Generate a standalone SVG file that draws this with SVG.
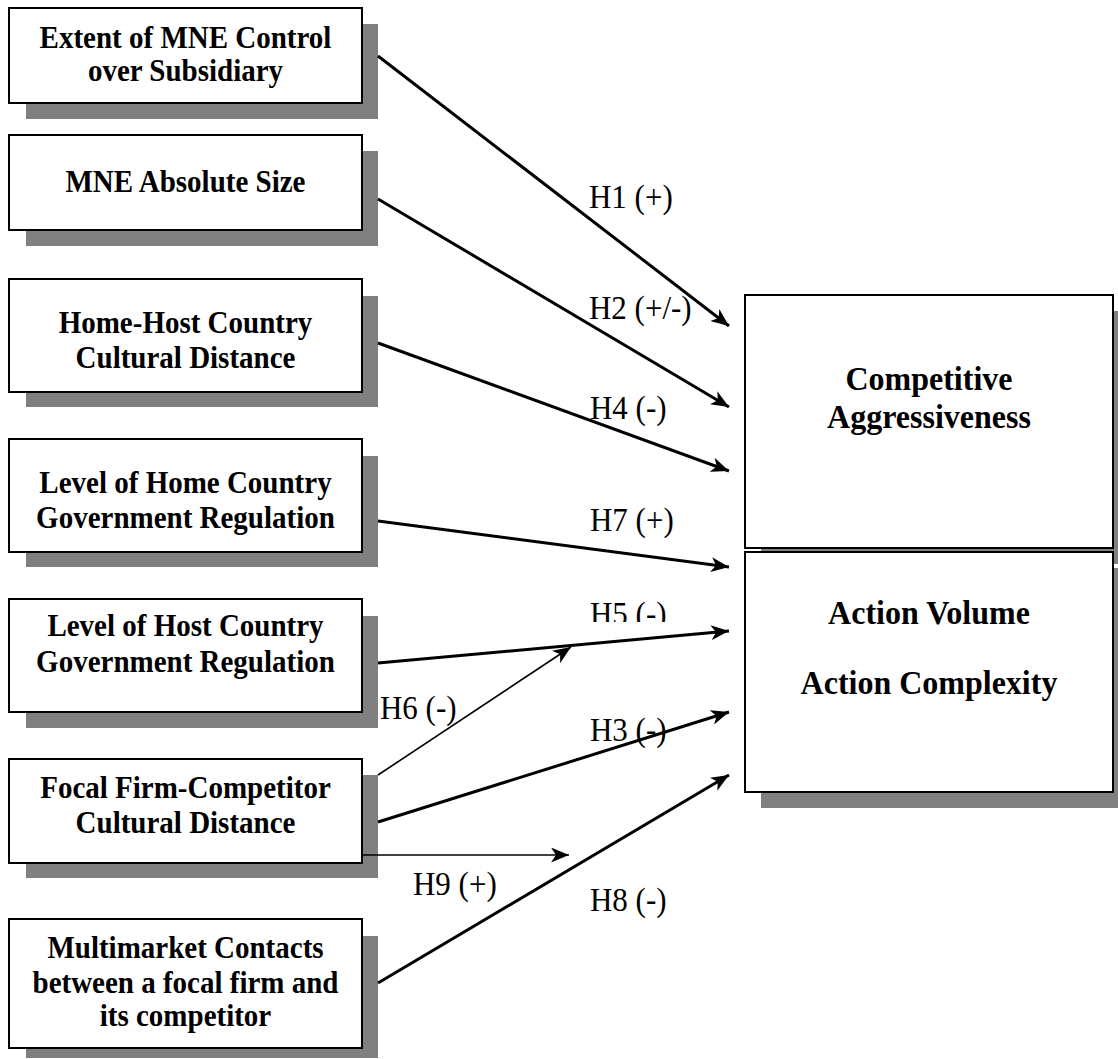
<svg xmlns="http://www.w3.org/2000/svg" width="1118" height="1059" viewBox="0 0 1118 1059">
<style>
.sh{fill:#808080}
.bx{fill:#fff;stroke:#000;stroke-width:2}
text{transform-box:fill-box;transform-origin:center;transform:scaleY(1.08)}
.t{font-family:"Liberation Serif","Times New Roman",serif;font-weight:bold;font-size:29px;text-anchor:middle;fill:#000}
.tr{font-family:"Liberation Serif","Times New Roman",serif;font-weight:bold;font-size:32px;text-anchor:middle;fill:#000}
.l{font-family:"Liberation Serif","Times New Roman",serif;font-size:31px;fill:#000}
.c{stroke:#000;stroke-width:3;fill:none;marker-end:url(#ah)}
.cn{stroke:#000;stroke-width:1.6;fill:none;marker-end:url(#ah)}
</style>
<defs>
<marker id="ah" markerUnits="userSpaceOnUse" markerWidth="19" markerHeight="15" refX="18" refY="7.5" orient="auto">
<path d="M0,0 L18,7.5 L0,15 L5,7.5 z" fill="#000"/>
</marker>
<clipPath id="h5clip"><rect x="0" y="0" width="1118" height="622"/></clipPath>
</defs>
<rect width="1118" height="1059" fill="#fff"/>

<g id="n1">
<rect class="sh" x="26" y="24" width="352" height="95"/>
<rect class="bx" x="9" y="8" width="353" height="95"/>
<text class="t" x="185.5" y="47">Extent of MNE Control</text>
<text class="t" x="185.5" y="80">over Subsidiary</text>
</g>
<g id="n2">
<rect class="sh" x="26" y="151" width="352" height="95"/>
<rect class="bx" x="9" y="135" width="353" height="95"/>
<text class="t" x="185.5" y="191">MNE Absolute Size</text>
</g>
<g id="n3">
<rect class="sh" x="26" y="296" width="352" height="111"/>
<rect class="bx" x="9" y="279" width="353" height="113"/>
<text class="t" x="185.5" y="332">Home-Host Country</text>
<text class="t" x="185.5" y="367">Cultural Distance</text>
</g>
<g id="n4">
<rect class="sh" x="26" y="456" width="352" height="111"/>
<rect class="bx" x="9" y="439" width="353" height="113"/>
<text class="t" x="185.5" y="492">Level of Home Country</text>
<text class="t" x="185.5" y="527">Government Regulation</text>
</g>
<g id="n5">
<rect class="sh" x="26" y="616" width="352" height="112"/>
<rect class="bx" x="9" y="599" width="353" height="113"/>
<text class="t" x="185.5" y="635">Level of Host Country</text>
<text class="t" x="185.5" y="671">Government Regulation</text>
</g>
<g id="n6">
<rect class="sh" x="26" y="775" width="352" height="103"/>
<rect class="bx" x="9" y="759" width="353" height="104"/>
<text class="t" x="185.5" y="797">Focal Firm-Competitor</text>
<text class="t" x="185.5" y="832">Cultural Distance</text>
</g>
<g id="n7">
<rect class="sh" x="26" y="936" width="352" height="122"/>
<rect class="bx" x="9" y="919" width="353" height="129"/>
<text class="t" x="185.5" y="957">Multimarket Contacts</text>
<text class="t" x="185.5" y="992">between a focal firm and</text>
<text class="t" x="185.5" y="1025">its competitor</text>
</g>

<g id="n8">
<rect class="sh" x="761" y="311" width="368" height="253"/>
<rect class="bx" x="745" y="295" width="368" height="253"/>
<text class="tr" x="929" y="389">Competitive</text>
<text class="tr" x="929" y="427">Aggressiveness</text>
</g>
<g id="n9">
<rect class="sh" x="761" y="568" width="368" height="240"/>
<rect class="bx" x="745" y="552" width="368" height="240"/>
<text class="tr" x="929" y="623">Action Volume</text>
<text class="tr" x="929" y="693">Action Complexity</text>
</g>

<g id="connectors">
<line class="c" x1="378" y1="56" x2="729" y2="326"/>
<line class="c" x1="378" y1="199" x2="729" y2="407"/>
<line class="c" x1="378" y1="343" x2="729" y2="471"/>
<line class="c" x1="378" y1="521" x2="729" y2="567"/>
<line class="c" x1="378" y1="663" x2="729" y2="631"/>
<line class="cn" x1="378" y1="775" x2="571" y2="647"/>
<line class="c" x1="378" y1="822" x2="729" y2="712"/>
<line class="cn" x1="362" y1="855" x2="569" y2="855"/>
<line class="c" x1="378" y1="983" x2="729" y2="775"/>
</g>

<g id="labels">
<text class="l" x="589" y="207">H1 (+)</text>
<text class="l" x="589" y="318">H2 (+/-)</text>
<text class="l" x="590" y="418">H4 (-)</text>
<text class="l" x="590" y="530">H7 (+)</text>
<g clip-path="url(#h5clip)"><text class="l" x="590" y="624">H5 (-)</text></g>
<text class="l" x="380" y="718">H6 (-)</text>
<text class="l" x="590" y="740">H3 (-)</text>
<text class="l" x="413" y="894">H9 (+)</text>
<text class="l" x="590" y="910">H8 (-)</text>
</g>
</svg>
